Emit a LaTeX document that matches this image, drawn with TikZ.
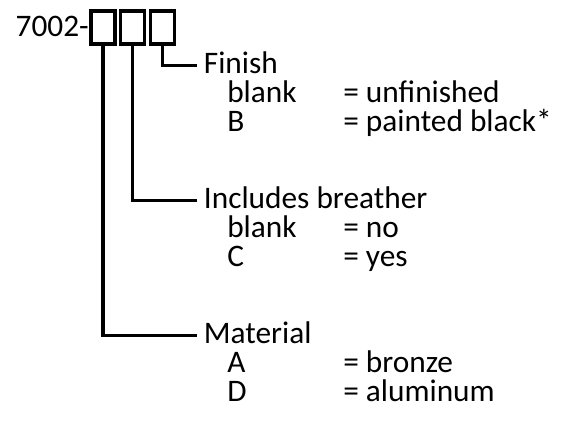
\documentclass[tikz,border=0pt]{standalone}
\usepackage{fontspec}
\setmainfont{Carlito}
\usetikzlibrary{positioning}

\begin{document}
\begin{tikzpicture}[x=0.75pt,y=-0.75pt,
    every node/.style={font=\fontsize{23.5}{28}\selectfont},
    slot/.style={draw,line width=2.8pt,minimum width=18pt,minimum height=25pt,inner sep=0pt},
    head/.style={anchor=base west,inner xsep=5pt,inner ysep=0pt},
    opt/.style={anchor=base west,inner sep=0pt}]
    \useasboundingbox (0,0) rectangle (569,423);
    \node[anchor=base east,inner sep=0pt] (pre) at (89,37) {7002-};
    % the three code slots
    \foreach \n/\x in {mat/103,brt/132.5,fin/162.5}{\node[slot] (s\n) at (\x,27.5) {};}
    \node[head] (hfin) at (197,74) {Finish};
    \node[head] (hbrt) at (197,209) {Includes breather};
    \node[head] (hmat) at (197,344) {Material};
    \draw[line width=2.6pt] (sfin.south) |- ([yshift=6.5pt]hfin.base west);
    \draw[line width=2.6pt] (sbrt.south) |- ([yshift=6.5pt]hbrt.base west);
    \draw[line width=2.6pt] (smat.south) |- ([yshift=6.5pt]hmat.base west);
    % options of each slot
    \foreach \y/\c/\v [count=\i] in {103/blank/= unfinished,132/B/= painted black*,238/blank/= no,267/C/= yes,373/A/= bronze,402/D/= aluminum}{
        \node[opt] (c\i) at (227,\y) {\c};
        \node[opt] (v\i) at (343,\y) {\v};
    }
\end{tikzpicture}
\end{document}
